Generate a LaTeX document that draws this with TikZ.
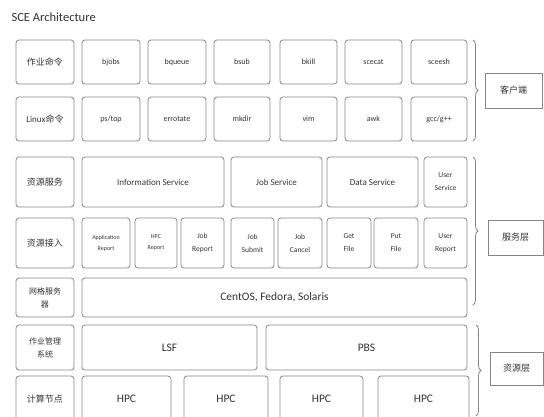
\documentclass[tikz,border=0pt]{standalone}
\usepackage{fontspec}
\setmainfont{Carlito}
\newfontfamily\cjk{Noto Sans CJK SC}
\newfontfamily\lat{Carlito}
\usetikzlibrary{decorations.pathreplacing}
\definecolor{bord}{HTML}{858585}
\definecolor{txt}{HTML}{333333}
\tikzset{
  bx/.style={draw=bord, line width=0.8pt, rounded corners=3pt, align=center, inner sep=0pt, text=txt, font=\fontsize{8}{9}\selectfont},
  sq/.style={draw=bord, line width=0.8pt, align=center, inner sep=0pt, text=txt},
  cn/.style={font=\cjk\fontsize{9}{12}\selectfont},
  sm/.style={font=\fontsize{6}{11}\selectfont},
  md/.style={font=\fontsize{7.5}{13}\selectfont},
  sv/.style={font=\fontsize{9}{12}\selectfont},
  big/.style={font=\fontsize{11.5}{13}\selectfont},
  brc/.style={draw=bord, line width=0.8pt, decorate, decoration={brace, amplitude=5pt}},
}
\begin{document}
\begin{tikzpicture}[x=1pt,y=-1pt]
\path[use as bounding box] (0,0) rectangle (544,416);
\clip (0,0) rectangle (544,416);
\node[anchor=west, text=txt, font=\fontsize{12.5}{14}\selectfont] (title) at (8,17) {SCE Architecture};
% row 1
\node[bx,cn,minimum width=58pt,minimum height=44pt] (r1c0) at (45,62) {作业命令};
\node[bx,minimum width=58pt,minimum height=44pt] (r1c1) at (111,62) {bjobs};
\node[bx,minimum width=58pt,minimum height=44pt] (r1c2) at (177,62) {bqueue};
\node[bx,minimum width=56pt,minimum height=44pt] (r1c3) at (242,62) {bsub};
\node[bx,minimum width=57pt,minimum height=44pt] (r1c4) at (308.5,62) {bkill};
\node[bx,minimum width=57pt,minimum height=44pt] (r1c5) at (373.5,62) {scecat};
\node[bx,minimum width=56pt,minimum height=44pt] (r1c6) at (439,62) {sceesh};
% row 2
\node[bx,cn,minimum width=58pt,minimum height=44pt] (r2c0) at (45,119) {{\lat Linux}命令};
\node[bx,minimum width=58pt,minimum height=44pt] (r2c1) at (111,119) {ps/top};
\node[bx,minimum width=58pt,minimum height=44pt] (r2c2) at (177,119) {errotate};
\node[bx,minimum width=56pt,minimum height=44pt] (r2c3) at (242,119) {mkdir};
\node[bx,minimum width=57pt,minimum height=44pt] (r2c4) at (308.5,119) {vim};
\node[bx,minimum width=57pt,minimum height=44pt] (r2c5) at (373.5,119) {awk};
\node[bx,minimum width=56pt,minimum height=44pt] (r2c6) at (439,119) {gcc/g++};
% row 3
\node[bx,cn,minimum width=58pt,minimum height=50pt] (r3c0) at (45,182) {资源服务};
\node[bx,sv,minimum width=142pt,minimum height=50pt] (info) at (153,182) {Information Service};
\node[bx,sv,minimum width=91pt,minimum height=50pt] (jobs) at (276.5,182) {Job Service};
\node[bx,sv,minimum width=91pt,minimum height=50pt] (data) at (372.5,182) {Data Service};
\node[bx,md,minimum width=43pt,minimum height=50pt] (user) at (445.5,182) {User\\Service};
% row 4
\node[bx,cn,minimum width=58pt,minimum height=50pt] (r4c0) at (45,243) {资源接入};
\node[bx,sm,minimum width=48pt,minimum height=50pt] (appr) at (106,243) {Application\\Report};
\node[bx,sm,minimum width=42pt,minimum height=50pt] (hpcr) at (156,243) {HPC\\Report};
\node[bx,md,minimum width=43pt,minimum height=50pt] (jobr) at (202.5,243) {Job\\Report};
\node[bx,md,minimum width=43pt,minimum height=50pt] (jobsub) at (252.5,243) {Job\\Submit};
\node[bx,md,minimum width=44pt,minimum height=50pt] (jobc) at (300,243) {Job\\Cancel};
\node[bx,md,minimum width=44pt,minimum height=50pt] (getf) at (349,243) {Get\\File};
\node[bx,md,minimum width=44pt,minimum height=50pt] (putf) at (396,243) {Put\\File};
\node[bx,md,minimum width=43pt,minimum height=50pt] (userr) at (445.5,243) {User\\Report};
% row 5
\node[bx,cn,font=\cjk\fontsize{8}{13}\selectfont,minimum width=58pt,minimum height=39pt] (r5c0) at (45,297.5) {网格服务\\器};
\node[bx,big,minimum width=385pt,minimum height=39pt] (os) at (274.5,297.5) {CentOS, Fedora, Solaris};
% row 6
\node[bx,cn,font=\cjk\fontsize{8}{13}\selectfont,minimum width=58pt,minimum height=45pt] (r6c0) at (45,347.5) {作业管理\\系统};
\node[bx,big,minimum width=175pt,minimum height=45pt] (lsf) at (169.5,347.5) {LSF};
\node[bx,big,minimum width=201pt,minimum height=45pt] (pbs) at (366.5,347.5) {PBS};
% row 7
\node[bx,cn,minimum width=58pt,minimum height=46pt] (r7c0) at (45,399) {计算节点};
\node[bx,big,minimum width=89pt,minimum height=46pt] (h1) at (126.5,399) {HPC};
\node[bx,big,minimum width=84pt,minimum height=46pt] (h2) at (226,399) {HPC};
\node[bx,big,minimum width=83pt,minimum height=46pt] (h3) at (321.5,399) {HPC};
\node[bx,big,minimum width=91pt,minimum height=46pt] (h4) at (423.5,399) {HPC};
% side labels
\node[sq,cn,minimum width=57pt,minimum height=35pt] (client) at (513.5,90.5) {客户端};
\node[sq,cn,minimum width=55pt,minimum height=35pt] (svc) at (515.5,237.5) {服务层};
\node[sq,cn,minimum width=53pt,minimum height=33pt] (res) at (516.5,368.5) {资源层};
% braces
\coordinate (b1a) at (473,40); \coordinate (b1b) at (473,141);
\coordinate (b2a) at (473,157); \coordinate (b2b) at (473,305);
\coordinate (b3a) at (476,325); \coordinate (b3b) at (476,416);
\draw[brc] (b1a) -- (b1b);
\draw[brc] (b2a) -- (b2b);
\draw[brc] (b3a) -- (b3b);
\end{tikzpicture}
\end{document}
